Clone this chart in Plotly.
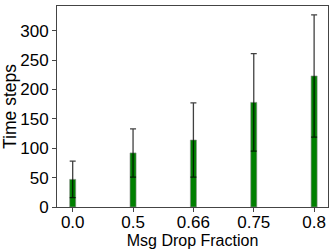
import plotly.graph_objects as go

categories = ["0.0", "0.5", "0.66", "0.75", "0.8"]
means = [47, 92, 114, 178, 223]
errors = [31, 41, 63, 83, 104]
y_ticks = [0, 50, 100, 150, 200, 250, 300]

fig = go.Figure()
fig.add_trace(go.Bar(
    x=list(range(len(categories))),
    y=means,
    width=0.1,
    marker=dict(color="#008000", line=dict(color="rgba(140,140,140,0.6)", width=1)),
    error_y=dict(type="data", array=errors, visible=True, color="rgba(0,0,0,0.75)", thickness=1.3, width=3),
))

font_family = "Liberation Sans, Arial, sans-serif"
fig.update_layout(
    width=336, height=252,
    margin=dict(l=57, r=8, t=6, b=45, autoexpand=False),
    plot_bgcolor="white", paper_bgcolor="white",
    showlegend=False,
    font=dict(family=font_family, size=17, color="black"),
    xaxis=dict(
        tickmode="array", tickvals=list(range(len(categories))), ticktext=categories,
        range=[-0.26, 4.23],
        showline=True, linecolor="#444", linewidth=1, mirror=True,
        ticks="outside", ticklen=4, tickcolor="#444",
        showgrid=False, zeroline=False,
        ticklabelstandoff=-4,
        title=dict(text="Msg Drop Fraction", font=dict(size=16), standoff=0),
        tickfont=dict(size=17),
    ),
    yaxis=dict(
        range=[0, 342], tickvals=y_ticks,
        showline=True, linecolor="#444", linewidth=1, mirror=True,
        ticks="outside", ticklen=4, tickcolor="#444",
        showgrid=False, zeroline=False,
        title=dict(text="Time steps", font=dict(size=17.5), standoff=2),
        tickfont=dict(size=17),
    ),
)
fig.write_html("out.html", config={"displayModeBar": False},
               post_script="document.body.style.margin='0';document.body.style.overflow='hidden';")
